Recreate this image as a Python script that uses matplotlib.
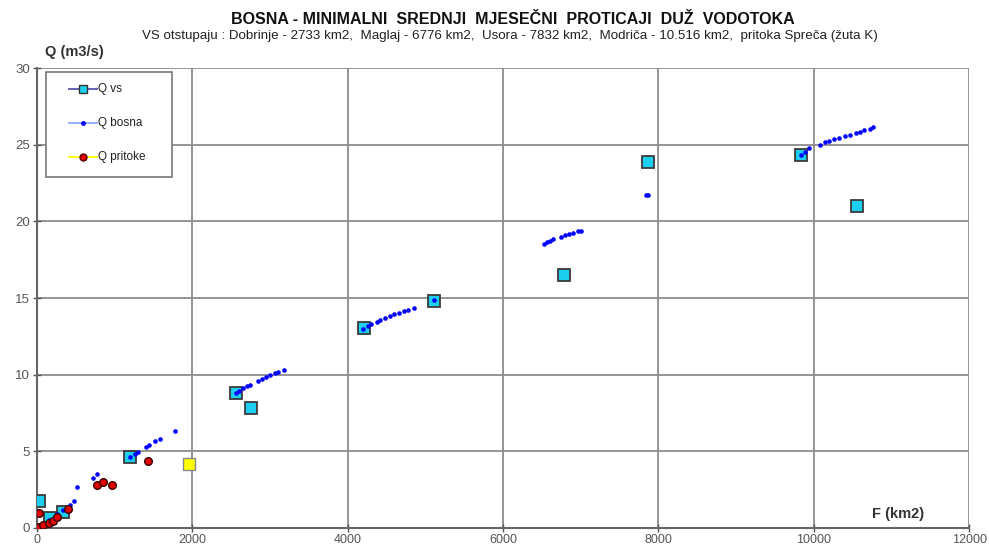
import matplotlib
matplotlib.use('Agg')
import matplotlib.pyplot as plt
from matplotlib.lines import Line2D
from matplotlib.patches import Rectangle

plt.rcParams['font.family'] = ['Liberation Sans', 'DejaVu Sans']

# Q vs - vodomjerne stanice
vs_f = [20, 170, 340, 1200, 2560, 2760, 4210, 5110, 6790, 7860, 9830, 10550]
vs_q = [1.75, 0.65, 1.05, 4.6, 8.8, 7.8, 13.05, 14.8, 16.5, 23.9, 24.3, 21.0]

# Q bosna - tacke duz vodotoka
bosna_f = [150, 260, 330, 380, 430, 480, 510, 720, 775,
           1200, 1260, 1300, 1400, 1440, 1520, 1580, 1780,
           2560, 2600, 2650, 2700, 2740, 2850, 2900, 2950, 3000, 3060, 3100, 3180,
           4200, 4260, 4300, 4380, 4420, 4480, 4540, 4600, 4660, 4720, 4780, 4850, 5110,
           6520, 6560, 6600, 6640, 6750, 6800, 6850, 6900, 6960, 7000,
           7840, 7870,
           9830, 9880, 9940, 10080, 10140, 10200, 10260, 10330, 10400, 10470, 10540,
           10600, 10650, 10720, 10760]
bosna_q = [0.55, 0.9, 1.15, 1.3, 1.5, 1.75, 2.65, 3.25, 3.5,
           4.6, 4.8, 4.95, 5.3, 5.4, 5.65, 5.8, 6.3,
           8.8, 8.95, 9.1, 9.25, 9.35, 9.6, 9.75, 9.85, 9.95, 10.1, 10.2, 10.3,
           13.0, 13.15, 13.3, 13.45, 13.55, 13.7, 13.85, 13.95, 14.05, 14.15, 14.25, 14.35, 14.85,
           18.55, 18.65, 18.75, 18.85, 19.0, 19.1, 19.2, 19.25, 19.35, 19.4,
           21.7, 21.75,
           24.35, 24.55, 24.8, 25.0, 25.15, 25.25, 25.35, 25.45, 25.55, 25.65, 25.75,
           25.85, 25.95, 26.05, 26.15]

# Q pritoke
prit_f = [25, 25, 77, 150, 200, 255, 400, 775, 855, 970, 1435]
prit_q = [0.98, 0.05, 0.2, 0.33, 0.45, 0.7, 1.25, 2.8, 3.0, 2.8, 4.35]

# pritoka Spreca (zuta K)
spreca_f = [1960]
spreca_q = [4.15]

leg_labels = ['Q vs', 'Q bosna', 'Q pritoke']

W, H = 989, 545
fig = plt.figure(figsize=(W / 100, H / 100), dpi=100)
ax = fig.add_axes([0.0374, 0.0312, 0.9426, 0.8440])

ax.plot(bosna_f, bosna_q, 'o', color='#0000ff', ms=3.3, mew=0, zorder=4)
ax.plot(vs_f, vs_q, 's', color='#1ccfef', ms=9, mec='#3a3a3a', mew=1.3, zorder=3)
ax.plot(prit_f, prit_q, 'o', color='#e00000', ms=5.5, mec='#3a0000', mew=1, zorder=5)
ax.plot(spreca_f, spreca_q, 's', color='#ffff00', ms=9, mec='#888888', mew=1, zorder=3)

ax.set_xlim(0, 12000)
ax.set_ylim(0, 30)
ax.set_xticks(range(0, 12001, 2000))
ax.set_yticks(range(0, 31, 5))
ax.grid(True, color='#8c8c8c', lw=1.3)
ax.set_axisbelow(True)
for s in ['top', 'right']:
    ax.spines[s].set_visible(False)
for s in ['left', 'bottom']:
    ax.spines[s].set_color('#666666')
    ax.spines[s].set_linewidth(1.5)
ax.tick_params(axis='both', labelsize=9.5, colors='#555555', direction='inout',
               length=6, width=1, pad=2)
ax.tick_params(axis='x', labelsize=9, pad=1.5)

ax.text(0.924, 0.015, 'F (km2)', transform=ax.transAxes, fontsize=10.5,
        fontweight='bold', color='#333333', ha='center', va='bottom')
fig.text(45 / W, 1 - 52 / H, 'Q (m3/s)', fontsize=10.5, fontweight='bold', color='#333333',
         ha='left', va='center')

fig.text(513 / W, 1 - 19 / H, 'BOSNA - MINIMALNI  SREDNJI  MJESEČNI  PROTICAJI  DUŽ  VODOTOKA',
         fontsize=11.5, fontweight='bold', color='#111111', ha='center', va='center')
fig.text(510 / W, 1 - 36 / H, 'VS otstupaju : Dobrinje - 2733 km2,  Maglaj - 6776 km2,  Usora - 7832 km2,  '
         'Modriča - 10.516 km2,  pritoka Spreča (žuta K)',
         fontsize=9.6, color='#222222', ha='center', va='center')

# legenda (okvir i stavke u pikselima slike)
fig.patches.append(Rectangle((46 / W, 1 - 177 / H), 126 / W, 105 / H, transform=fig.transFigure,
                             facecolor='white', edgecolor='#777777', lw=1.2, zorder=10))
styles = [
    dict(color='#5555aa', marker='s', ms=5.5, mfc='#1ccfef', mec='#333333'),
    dict(color='#8fa8ff', marker='o', ms=2.5, mfc='#0000ff', mec='#0000ff'),
    dict(color='#ffff00', marker='o', ms=5, mfc='#e00000', mec='#550000'),
]
for i, (lab, st) in enumerate(zip(leg_labels, styles)):
    yy = 1 - (89 + 34 * i) / H
    fig.lines.append(Line2D([69 / W, 97 / W], [yy, yy], transform=fig.transFigure, lw=1.3,
                            color=st['color'], zorder=11))
    fig.lines.append(Line2D([83 / W], [yy], transform=fig.transFigure, ls='none', zorder=12,
                            marker=st['marker'], ms=st['ms'], mfc=st['mfc'], mec=st['mec']))
    fig.text(98 / W, yy, lab, fontsize=8.5, color='#222222', ha='left', va='center', zorder=12)

fig.savefig('out.png', dpi=100)
